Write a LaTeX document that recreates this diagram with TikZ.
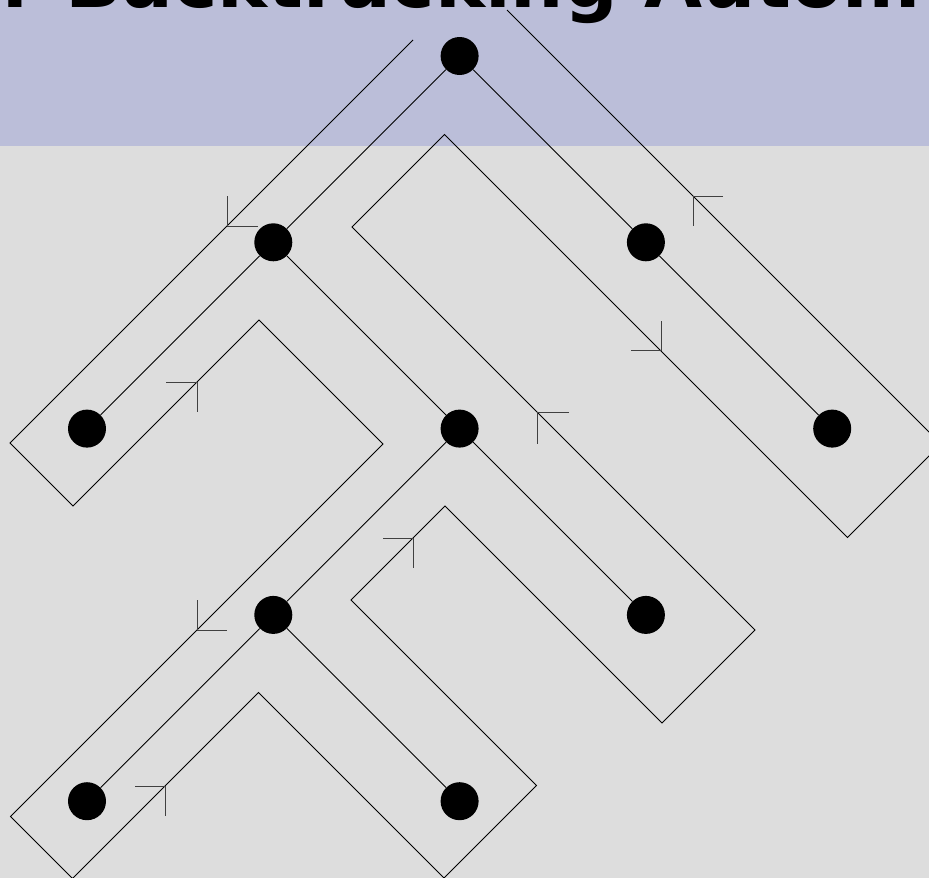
\documentclass[tikz,border=0pt]{standalone}
\usepackage{fontspec}
\setsansfont{DejaVu Sans}
\definecolor{btBand}{HTML}{BBBED9}
\definecolor{btGray}{HTML}{DDDDDD}
\definecolor{btInk}{HTML}{000000}
\tikzset{
  bt edge/.style={draw=btInk, line width=0.9pt},
  bt node/.style={circle, fill=btInk, minimum size=38pt, inner sep=0pt},
  bt contour/.style={draw=btInk, line width=0.9pt, line join=miter},
  bt barb/.style={draw=btInk!75, line width=1pt},
  bt title/.style={font=\sffamily\bfseries\fontsize{75}{80}\selectfont, text=btInk, inner sep=0pt, anchor=base west},
}

\begin{document}
\begin{tikzpicture}[x=1pt,y=-1pt]
  \useasboundingbox (0,0) rectangle (929,878);
  \clip (0,0) rectangle (929,878);
  \fill[btGray] (0,0) rectangle (929,878);
  \fill[btBand] (0,0) rectangle (929,146);
  \node[bt title] (title) at (2,7) {r Backtracking Autom};
  % tree nodes on a 45 degree grid
  \foreach \name/\i/\j in {root/2/0, a/1/1, b/3/1, aa/0/2, ab/2/2, bb/4/2,
                           aba/1/3, abb/3/3, abaa/0/4, abab/2/4}
    \node[bt node] (\name) at ({87+186.3*\i},{56+186.3*\j}) {};
  \foreach \p/\c in {root/a, root/b, a/aa, a/ab, b/bb, ab/aba, ab/abb, aba/abaa, aba/abab}
    \draw[bt edge] (\p) -- (\c);
  % walk round the tree
  \draw[bt contour] (413,40) -- (10,443) -- (73,506) -- (259,320) -- (383,444)
    -- (10.5,816.5) -- (72.5,878.5) -- (258.5,692.5) -- (444,878) -- (536.5,785.5)
    -- (351,600) -- (445,506) -- (662,723) -- (755,630) -- (352,227)
    -- (444.5,134.5) -- (847.5,537.5) -- (941,444) -- (507,10);
  % direction marks
  \foreach \x/\y/\ax/\ay/\bx/\by in {227/226/0/-30/31/0, 197/382/-31/0/0/30,
      197/630/0/-30/30/0, 165/786/-30/0/0/30, 413/538/-30/0/0/30,
      537/412/32/0/0/32, 661/350/-30/0/0/-29, 693/196/30/0/0/30}
    \draw[bt barb] (\x+\ax,\y+\ay) -- (\x,\y) -- (\x+\bx,\y+\by);
\end{tikzpicture}
\end{document}
